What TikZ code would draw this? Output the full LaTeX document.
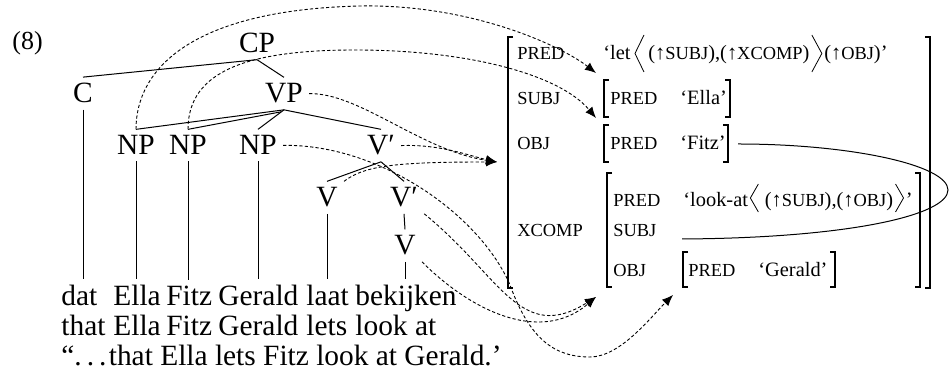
\documentclass[tikz,border=0pt]{standalone}
\usepackage{fontspec}
\setmainfont{Liberation Serif}
\usetikzlibrary{arrows.meta,calc}
\newcommand{\trf}{\fontsize{14.7pt}{17pt}\selectfont}
\newcommand{\exf}{\fontsize{13pt}{15pt}\selectfont}
\newcommand{\fvf}{\fontsize{10.2pt}{12pt}\selectfont}
\newcommand{\fscf}{\fontsize{9.2pt}{10pt}\selectfont}
\newcommand{\myfsc}[1]{{\fscf #1}}
\newcommand{\mydots}{.\kern0.17em.\kern0.17em.\kern0.08em}
\begin{document}
\begin{tikzpicture}[x=0.5pt,y=-0.5pt,
  tr/.style={font=\trf, inner sep=3pt, anchor=base},
  wd/.style={font=\trf, inner xsep=0pt, inner ysep=3pt, anchor=base west},
  fa/.style={font=\fscf, inner sep=0pt, anchor=base west},
  fv/.style={font=\fvf, inner sep=0pt, anchor=base west},
  tline/.style={line width=0.5pt},
  brk/.style={line width=0.6pt},
  ang/.style={line width=0.4pt},
  phi/.style={line width=0.45pt, dash pattern=on 1.6pt off 1.1pt, -{Latex[length=5.5pt,width=4.5pt]}},
  link/.style={line width=0.5pt}]
\useasboundingbox (0,0) rectangle (949,383);

% ---------- tree ----------
\node[font=\exf, inner sep=0pt, anchor=base west] (ex) at (12,50) {(8)};
\node[tr] (CP) at (257,53) {CP};
\node[tr] (C) at (83,103) {C};
\node[tr] (VP) at (284,103) {VP};
\node[tr] (NPa) at (136,155) {NP};
\node[tr] (NPb) at (188,155) {NP};
\node[tr] (NPc) at (258,155) {NP};
\node[tr] (Vbar) at (381,155) {V′};
\node[tr] (Vl) at (327,207) {V};
\node[tr] (Vbarb) at (404,207) {V′};
\node[tr] (Vb) at (405,255) {V};

% words
\node[wd] (w1) at (61,306) {dat};
\node[wd] (w2) at (113,306) {Ella};
\node[wd] (w3) at (166,306) {Fitz};
\node[wd] (w4) at (218,306) {Gerald};
\node[wd] (w5) at (306,306) {laat};
\node[wd] (w6) at (355,306) {bekijken};
\node[wd] (g1) at (61,336) {that};
\node[wd] (g2) at (113,336) {Ella};
\node[wd] (g3) at (166,336) {Fitz};
\node[wd] (g4) at (218,336) {Gerald};
\node[wd] (g5) at (306,336) {lets};
\node[wd] (g6) at (355,336) {look at};
\node[wd] (tr) at (61,366) {“\mydots{}that Ella lets Fitz look at Gerald.’};

\draw[tline] (CP.south) -- (C.north);
\draw[tline] (CP.south) -- (VP.north);
\draw[tline] (VP.south) -- (NPa.north);
\draw[tline] ($(VP.south)+(-3,2)$) -- (NPb.north);
\draw[tline] (VP.south) -- (NPc.north);
\draw[tline] (VP.south) -- (Vbar.north);
\draw[tline] (Vbar.south) -- (Vl.north);
\draw[tline] (Vbar.south) -- (Vbarb.north);
\draw[tline] (Vbarb.south) -- (Vb.north);
\draw[tline] (C.south) -- (C.south |- w1.north);
\draw[tline] (NPa.south) -- (NPa.south |- w2.north);
\draw[tline] (NPb.south) -- (NPb.south |- w3.north);
\draw[tline] (NPc.south) -- (NPc.south |- w4.north);
\draw[tline] (Vl.south) -- (Vl.south |- w5.north);
\draw[tline] (Vb.south) -- (Vb.south |- w6.north);

% ---------- f-structure ----------
\draw[brk] (513,37) -- (508,37) -- (508,288) -- (513,288);
\draw[brk] (925,37) -- (930,37) -- (930,288) -- (925,288);

\node[fa] (aPred) at (517,60) {PRED};
\node[fa] (aSubj) at (517,105) {SUBJ};
\node[fa] (aObj) at (517,150) {OBJ};
\node[fa] (aXcomp) at (517,237) {XCOMP};

\node[fv] (vlet) at (603,60) {‘let};
\node[fv] (args1) at ($(vlet.base east)+(17,0)$) {(↑\myfsc{SUBJ}),(↑\myfsc{XCOMP})};
\node[fv] (args1b) at ($(args1.base east)+(14,0)$) {(↑\myfsc{OBJ})’};
\draw[ang] ($(vlet.base east)+(13,-25)$) -- ($(vlet.base east)+(4,-6.5)$) -- ($(vlet.base east)+(13,12)$);
\draw[ang] ($(args1.base east)+(2,-25)$) -- ($(args1.base east)+(12,-6.5)$) -- ($(args1.base east)+(2,12)$);

% SUBJ value
\draw[brk] (609,80) -- (604,80) -- (604,117) -- (609,117);
\draw[brk] (725,80) -- (730,80) -- (730,117) -- (725,117);
\node[fa] (sPred) at (610,105) {PRED};
\node[fv] (ella) at (680,105) {‘Ella’};

% OBJ value
\draw[brk] (609,125) -- (604,125) -- (604,162) -- (609,162);
\draw[brk] (723,125) -- (728,125) -- (728,162) -- (723,162);
\node[fa] (oPred) at (610,150) {PRED};
\node[fv] (fitz) at (680,150) {‘Fitz’};

% XCOMP value
\draw[brk] (612,173) -- (607,173) -- (607,287) -- (612,287);
\draw[brk] (915,173) -- (920,173) -- (920,287) -- (915,287);
\node[fa] (xPred) at (613,207) {PRED};
\node[fa] (xSubj) at (613,237) {SUBJ};
\node[fa] (xObj) at (613,277) {OBJ};
\node[fv] (look) at (683,207) {‘look-at};
\node[fv] (args2) at ($(look.base east)+(16,0)$) {(↑\myfsc{SUBJ}),(↑\myfsc{OBJ})};
\node[fv] (q2) at ($(args2.base east)+(12,0)$) {’};
\draw[ang] ($(look.base east)+(10,-23)$) -- ($(look.base east)+(2,-9)$) -- ($(look.base east)+(10,5)$);
\draw[ang] ($(args2.base east)+(2,-23)$) -- ($(args2.base east)+(10,-9)$) -- ($(args2.base east)+(2,5)$);

% Gerald
\draw[brk] (688,252) -- (683,252) -- (683,287) -- (688,287);
\draw[brk] (830,252) -- (835,252) -- (835,287) -- (830,287);
\node[fa] (gPred) at (688,277) {PRED};
\node[fv] (gerald) at (758,277) {‘Gerald’};

% structure sharing line
\coordinate (objEnd) at (738,144);
\coordinate (xsubjEnd) at (682,239);
\draw[link] (objEnd) .. controls (850,144) and (948,165) .. (948,190)
  .. controls (948,215) and (850,238) .. (xsubjEnd);

% ---------- phi mapping ----------
\coordinate (tip1) at (596,73);
\coordinate (tip2) at (596,118);
\coordinate (tip3) at (497,162);
\coordinate (tip4) at (596,297);
\coordinate (tip5) at (673,295);

\draw[phi] (NPa.north) .. controls (136,70) and (190,10) .. (360,6)
  .. controls (470,4) and (560,45) .. (tip1);
\draw[phi] (NPb.north) .. controls (188,70) and (250,50) .. (355,50)
  .. controls (470,50) and (560,75) .. (tip2);
\draw[phi] (VP.east) .. controls (360,93) and (420,150) .. (tip3);
\draw[phi] (Vbar.east) .. controls (440,144) and (470,156) .. (tip3);
\draw[phi] (Vl.north east) .. controls (365,165) and (400,162) .. (tip3);
\draw[phi] (NPc.east) .. controls (380,144) and (480,215) .. (510,285)
  .. controls (530,340) and (555,357) .. (590,357)
  .. controls (620,357) and (650,318) .. (tip5);
\draw[phi] (Vbarb.south east) .. controls (500,275) and (520,345) .. (tip4);
\draw[phi] (Vb.south east) .. controls (470,310) and (540,345) .. (tip4);
\end{tikzpicture}
\end{document}
